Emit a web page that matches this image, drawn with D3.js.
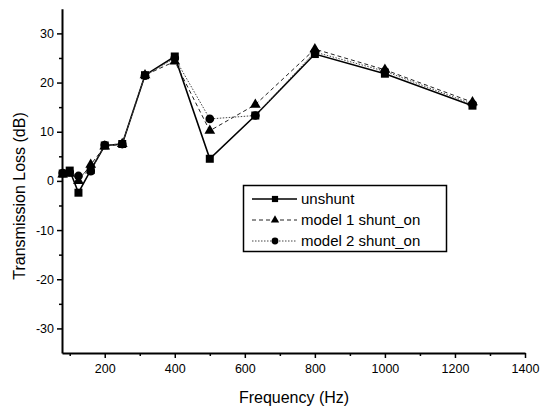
<!DOCTYPE html>
<html><head><meta charset="utf-8">
<script src="https://cdn.jsdelivr.net/npm/d3@7"></script>
<style>
html,body{margin:0;padding:0;background:#fff;}
svg{display:block;font-family:"Liberation Sans",Arial,sans-serif;}
</style></head>
<body>
<svg id="c" width="540" height="408"></svg>
<script>
const freqs = [80,100,125,160,200,250,315,400,500,630,800,1000,1250];
const unshunt = [1.5,2.1,-2.4,2.2,7.2,7.5,21.5,25.3,4.5,13.3,25.8,21.8,15.3];
const model1 = [1.3,1.5,0.0,3.3,7.0,7.5,21.5,24.3,10.2,15.5,26.8,22.6,16.0];
const model2 = [1.6,1.8,1.0,2.0,7.3,7.5,21.4,25.0,12.6,13.3,26.2,22.3,15.6];
const seriesNames = ["unshunt","model 1 shunt_on","model 2 shunt_on"];
const xTicks = [200,400,600,800,1000,1200,1400];
const xMinor = [100,300,500,700,900,1100,1300];
const yTicks = [-30,-20,-10,0,10,20,30];
const yMinor = [-25,-15,-5,5,15,25];
const xTitle = "Frequency (Hz)";
const yTitle = "Transmission Loss (dB)";

const svg = d3.select("#c");
const x = d3.scaleLinear().domain([78,1400]).range([62,525]);
const y = d3.scaleLinear().domain([-35,35]).range([353,8.8]);
const fmt = d => String(d);

// axes
const xa = svg.append("g").attr("transform",`translate(0,${y(-35)})`)
  .call(d3.axisBottom(x).tickValues(xTicks).tickFormat(fmt).tickSize(5).tickSizeOuter(0).tickPadding(4));
xa.select(".domain").attr("stroke-width",2);
xa.selectAll(".tick line").attr("stroke-width",1.5);
xa.selectAll("text").attr("font-size",12.5).attr("font-family","Liberation Sans, Arial, sans-serif").attr("dy","0.9em");
svg.append("g").attr("transform",`translate(0,${y(-35)})`)
  .call(d3.axisBottom(x).tickValues(xMinor).tickSize(3).tickSizeOuter(0).tickFormat(""))
  .call(g=>g.select(".domain").remove()).selectAll("line").attr("stroke-width",1.5);

const ya = svg.append("g").attr("transform",`translate(${x(78)},0)`)
  .call(d3.axisLeft(y).tickValues(yTicks).tickFormat(fmt).tickSize(5).tickSizeOuter(0).tickPadding(3));
ya.select(".domain").attr("stroke-width",2);
ya.selectAll(".tick line").attr("stroke-width",1.5);
ya.selectAll("text").attr("font-size",12.5).attr("font-family","Liberation Sans, Arial, sans-serif");
svg.append("g").attr("transform",`translate(${x(78)},0)`)
  .call(d3.axisLeft(y).tickValues(yMinor).tickSize(3).tickSizeOuter(0).tickFormat(""))
  .call(g=>g.select(".domain").remove()).selectAll("line").attr("stroke-width",1.5);

svg.append("text").attr("x",294).attr("y",403).attr("text-anchor","middle")
  .attr("font-size",16).text(xTitle);
svg.append("text").attr("transform","translate(25,196) rotate(-90)").attr("text-anchor","middle")
  .attr("font-size",16).text(yTitle);

const styles = [
  {vals:unshunt, stroke:"#000", width:1.6, dash:null, marker:d3.symbolSquare, size:64},
  {vals:model1, stroke:"#222", width:1, dash:"4,3", marker:d3.symbolTriangle, size:50},
  {vals:model2, stroke:"#444", width:1, dash:"1.5,1.5", marker:d3.symbolCircle, size:60}
];
const line = d3.line().x(d=>x(d[0])).y(d=>y(d[1]));
styles.forEach(s=>{
  const pts = freqs.map((f,i)=>[f,s.vals[i]]);
  svg.append("path").datum(pts).attr("d",line).attr("fill","none")
    .attr("stroke",s.stroke).attr("stroke-width",s.width).attr("stroke-dasharray",s.dash);
});
styles.forEach(s=>{
  const pts = freqs.map((f,i)=>[f,s.vals[i]]);
  svg.append("g").selectAll("path").data(pts).join("path")
    .attr("transform",d=>`translate(${x(d[0])},${y(d[1])})`)
    .attr("d",d3.symbol().type(s.marker).size(s.size)).attr("fill","#000");
});

// legend
const lg = svg.append("g");
lg.append("rect").attr("x",243.5).attr("y",185.5).attr("width",203).attr("height",66)
  .attr("fill","#fff").attr("stroke","#000").attr("stroke-width",1.5);
styles.forEach((s,i)=>{
  const cy = 199 + i*21;
  lg.append("line").attr("x1",252).attr("x2",297).attr("y1",cy).attr("y2",cy)
    .attr("stroke",s.stroke).attr("stroke-width",s.width).attr("stroke-dasharray",s.dash);
  lg.append("path").attr("transform",`translate(275,${cy})`)
    .attr("d",d3.symbol().type(s.marker).size(s.size*0.6)).attr("fill","#000");
  lg.append("text").attr("x",301).attr("y",cy).attr("dy","0.35em").attr("font-size",15)
    .text(seriesNames[i]);
});
</script>
</body></html>
